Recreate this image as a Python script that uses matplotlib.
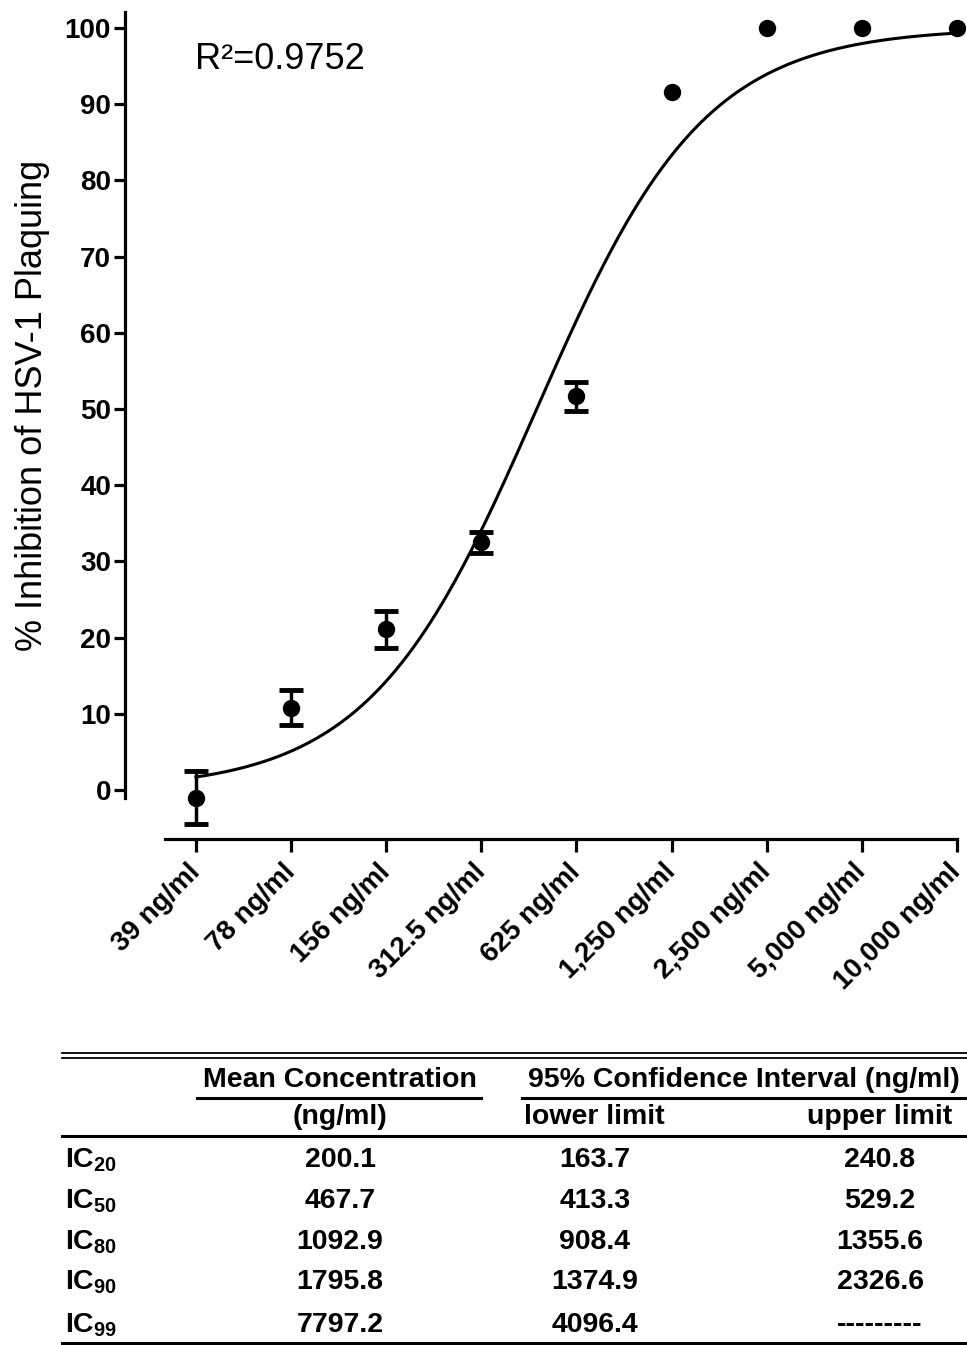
import numpy as np
import matplotlib
matplotlib.use('Agg')
import matplotlib.pyplot as plt
from matplotlib.lines import Line2D

plt.rcParams['font.family'] = ['Liberation Sans', 'DejaVu Sans']
plt.rcParams['mathtext.fontset'] = 'custom'
plt.rcParams['mathtext.default'] = 'regular'

# dose-response data
conc = [39, 78, 156, 312.5, 625, 1250, 2500, 5000, 10000]
tick_labels = ['39 ng/ml', '78 ng/ml', '156 ng/ml', '312.5 ng/ml', '625 ng/ml',
               '1,250 ng/ml', '2,500 ng/ml', '5,000 ng/ml', '10,000 ng/ml']
inhibition = [-1.0, 10.8, 21.1, 32.5, 51.7, 91.6, 100.0, 100.0, 100.0]
err = [3.5, 2.3, 2.4, 1.4, 1.9, 0, 0, 0, 0]

# 4PL fit parameters
fit_bottom, fit_top, fit_ic50, fit_hill = 0.0, 100.0, 467.7, 1.633
r2_text = 'R\u00b2=0.9752'

# table
row_labels = ['IC$_{20}$', 'IC$_{50}$', 'IC$_{80}$', 'IC$_{90}$', 'IC$_{99}$']
mean_conc = ['200.1', '467.7', '1092.9', '1795.8', '7797.2']
lower_lim = ['163.7', '413.3', '908.4', '1374.9', '4096.4']
upper_lim = ['240.8', '529.2', '1355.6', '2326.6', '---------']

W, H = 967, 1345
fig = plt.figure(figsize=(W / 100, H / 100), dpi=100)

def fx(px):
    return px / W

def fy(py):
    return 1 - py / H

ax = fig.add_axes([fx(125), fy(839), fx(965) - fx(125), fy(12) - fy(839)])

xpos = np.log2(np.array(conc) / conc[0])
err_idx = [i for i in range(len(err)) if err[i] > 0]
ax.errorbar(xpos[err_idx], np.array(inhibition)[err_idx], yerr=np.array(err)[err_idx],
            fmt='o', color='black', ms=11.5, elinewidth=2.5, capsize=8.5, capthick=3.5, zorder=3)
dot_idx = [i for i in range(len(err)) if err[i] == 0]
ax.plot(xpos[dot_idx], np.array(inhibition)[dot_idx], 'o', color='black', ms=11.5, zorder=3)

xc = np.linspace(xpos[0], xpos[-1], 400)
cc = conc[0] * 2 ** xc
yc = fit_bottom + (fit_top - fit_bottom) / (1 + (fit_ic50 / cc) ** fit_hill)
ax.plot(xc, yc, color='black', lw=2.2, zorder=2)

ax.set_xlim(-0.747, 8.09)
ax.set_ylim(-6.43, 102.1)
for s in ['top', 'right']:
    ax.spines[s].set_visible(False)
ax.spines['left'].set_linewidth(2.3)
ax.spines['bottom'].set_linewidth(2.3)
ax.spines['left'].set_bounds(-1, 102.1)
ax.spines['bottom'].set_bounds(-0.33, xpos[-1])

ax.set_yticks(range(0, 101, 10))
ax.set_yticklabels([str(v) for v in range(0, 101, 10)], fontsize=20, fontweight='bold')
ax.tick_params(axis='y', length=8, width=2.3, pad=2)
ax.set_xticks(xpos)
ax.set_xticklabels(tick_labels, fontsize=20, fontweight='bold', rotation=45,
                   ha='right', va='center', rotation_mode='anchor')
ax.tick_params(axis='x', length=9, width=2.3, pad=12)

ax.text(0.185, 0.942, r2_text, transform=ax.transAxes, fontsize=26,
        ha='center', va='center')

fig.text(fx(33), fy(405), '% Inhibition of HSV-1 Plaquing', rotation=90, fontsize=26,
         ha='center', va='center')

# table
def hline(x0, x1, y, lw=2.0):
    fig.add_artist(Line2D([fx(x0), fx(x1)], [fy(y), fy(y)], color='black', lw=lw,
                          transform=fig.transFigure))

hline(62, 967, 1053, 1.3)
hline(62, 967, 1058, 1.3)
hline(197, 481, 1098, 2.2)
hline(522, 967, 1098, 2.2)
hline(62, 967, 1136, 2.2)
hline(62, 967, 1343, 2.2)

tkw = dict(fontsize=20.5, fontweight='bold', va='center')
fig.text(fx(340), fy(1080), 'Mean Concentration', ha='center', **tkw)
fig.text(fx(744), fy(1080), '95% Confidence Interval (ng/ml)', ha='center', **tkw)
fig.text(fx(340), fy(1117), '(ng/ml)', ha='center', **tkw)
fig.text(fx(594), fy(1117), 'lower limit', ha='center', **tkw)
fig.text(fx(880), fy(1117), 'upper limit', ha='center', **tkw)

row_y = [1160, 1201, 1242, 1282, 1325]
for i in range(len(row_labels)):
    fig.text(fx(65), fy(row_y[i]), row_labels[i], ha='left', **tkw)
    fig.text(fx(340), fy(row_y[i]), mean_conc[i], ha='center', **tkw)
    fig.text(fx(595), fy(row_y[i]), lower_lim[i], ha='center', **tkw)
    fig.text(fx(880), fy(row_y[i]), upper_lim[i], ha='center', **tkw)

fig.savefig('out.png', dpi=100)
